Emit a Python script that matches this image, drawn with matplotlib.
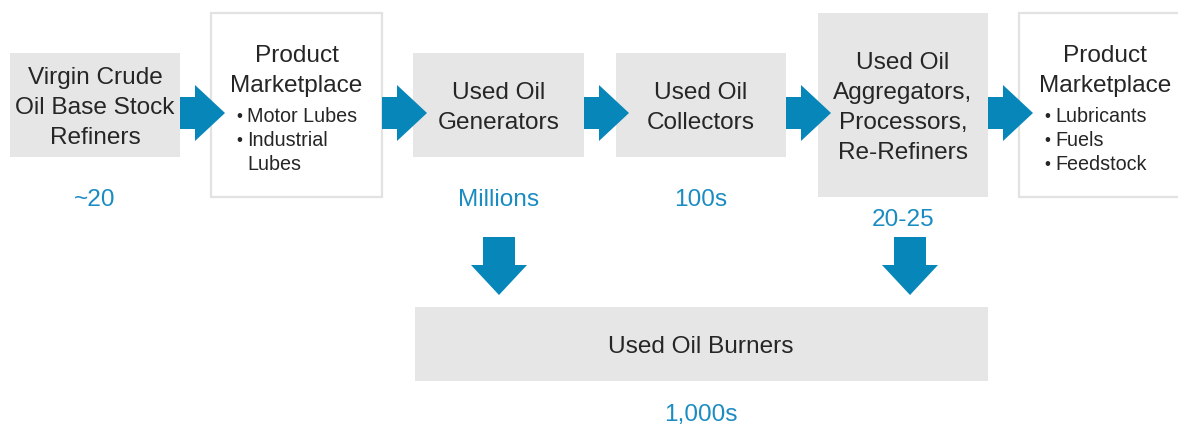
import matplotlib.pyplot as plt
from matplotlib.patches import Rectangle, Polygon

plt.rcParams['font.family'] = ['Liberation Sans', 'DejaVu Sans']

# flow stages (top row, left to right)
stage_titles = [
    ['Virgin Crude', 'Oil Base Stock', 'Refiners'],
    ['Product', 'Marketplace'],
    ['Used Oil', 'Generators'],
    ['Used Oil', 'Collectors'],
    ['Used Oil', 'Aggregators,', 'Processors,', 'Re-Refiners'],
    ['Product', 'Marketplace'],
]
stage_bullets = [
    [],
    ['Motor Lubes', 'Industrial\nLubes'],
    [],
    [],
    [],
    ['Lubricants', 'Fuels', 'Feedstock'],
]
stage_counts = ['~20', '', 'Millions', '100s', '20-25', '']
burner_title = 'Used Oil Burners'
burner_count = '1,000s'

BLUE = '#0686b9'
LABEL = '#1a8cc2'
GRAY = '#e6e6e6'
TXT = '#262626'

# box geometry in pixels (x0, y0, x1, y1); the last box runs off the right edge
boxes = [(10, 53, 180, 157), (211, 13, 382, 197), (413, 53, 584, 157),
         (616, 53, 786, 157), (818, 13, 988, 197), (1019, 13, 1191, 197)]
white = [False, True, False, False, False, True]
count_y = [197, None, 197, 197, 217, None]
DY = 3  # baseline nudge for text

fig = plt.figure(figsize=(11.78, 4.26), dpi=100)
ax = fig.add_axes([0, 0, 1, 1])
ax.set_xlim(0, 1178)
ax.set_ylim(426, 0)
ax.axis('off')

big = 17.6
small = 14.2


def right_arrow(x0, yc):
    pts = [(x0, yc - 16), (x0 + 15, yc - 16), (x0 + 15, yc - 28), (x0 + 45, yc),
           (x0 + 15, yc + 28), (x0 + 15, yc + 16), (x0, yc + 16)]
    ax.add_patch(Polygon(pts, closed=True, color=BLUE, zorder=3, lw=0))


def down_arrow(xc, y0):
    pts = [(xc - 16, y0), (xc + 16, y0), (xc + 16, y0 + 28), (xc + 28, y0 + 28),
           (xc, y0 + 58), (xc - 28, y0 + 28), (xc - 16, y0 + 28)]
    ax.add_patch(Polygon(pts, closed=True, color=BLUE, zorder=3, lw=0))


for i, (x0, y0, x1, y1) in enumerate(boxes):
    if white[i]:
        ax.add_patch(Rectangle((x0, y0), x1 - x0, y1 - y0, facecolor='white',
                               edgecolor='#e2e2e2', lw=1.6, zorder=1))
    else:
        ax.add_patch(Rectangle((x0, y0), x1 - x0, y1 - y0, facecolor=GRAY,
                               edgecolor='none', zorder=1))
    xc = (x0 + x1) / 2
    lines = stage_titles[i]
    if stage_bullets[i]:
        for k, ln in enumerate(lines):
            ax.text(xc, 53 + 30 * k + DY, ln, ha='center', va='center',
                    fontsize=big, color=TXT, zorder=4)
        bx = x0 + 25
        yy = 113 + DY
        for b in stage_bullets[i]:
            for j, part in enumerate(b.split('\n')):
                if j == 0:
                    ax.text(bx, yy, '\u2022', ha='left', va='center',
                            fontsize=small - 2, color=TXT, zorder=4)
                ax.text(bx + 11, yy, part, ha='left', va='center',
                        fontsize=small, color=TXT, zorder=4)
                yy += 24
    else:
        yc = (y0 + y1) / 2 + DY
        n = len(lines)
        for k, ln in enumerate(lines):
            ax.text(xc, yc + 30 * (k - (n - 1) / 2), ln, ha='center',
                    va='center', fontsize=big, color=TXT, zorder=4)
    if stage_counts[i]:
        ax.text(xc, count_y[i] + DY, stage_counts[i], ha='center', va='center',
                fontsize=big, color=LABEL, zorder=4)

# arrows between the stages
for i in range(len(boxes) - 1):
    right_arrow(boxes[i][2], 113)

# bottom burner box
ax.add_patch(Rectangle((415, 307), 988 - 415, 381 - 307, facecolor=GRAY,
                       edgecolor='none', zorder=1))
ax.text(701, 344 + DY, burner_title, ha='center', va='center', fontsize=big,
        color=TXT, zorder=4)
ax.text(701, 412 + DY, burner_count, ha='center', va='center', fontsize=big,
        color=LABEL, zorder=4)
down_arrow(499, 237)
down_arrow(910, 237)

fig.savefig('out.png', dpi=100, facecolor='white')
